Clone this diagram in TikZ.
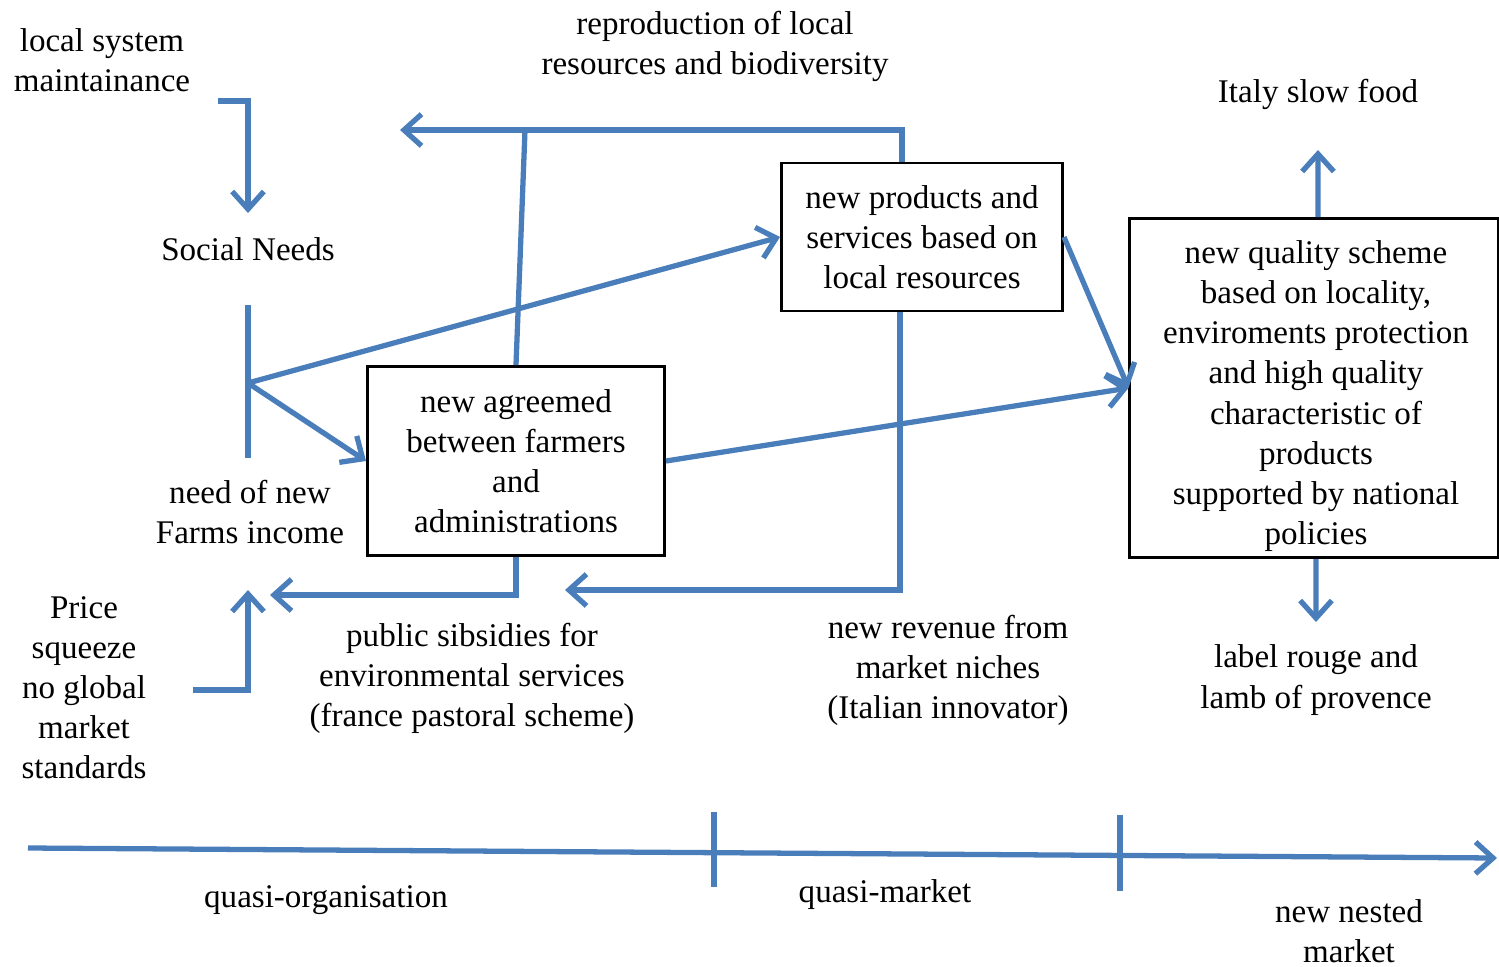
\documentclass[tikz,border=0pt]{standalone}
\usepackage{fontspec}
\setmainfont{Liberation Serif}
\usetikzlibrary{arrows.meta}

\definecolor{flowblue}{RGB}{74,126,187}

\tikzset{
  flow/.style={draw=flowblue, line width=1.5pt, -{Straight Barb[length=5pt,width=9pt]}},
  link/.style={draw=flowblue, line width=1.5pt},
  box/.style={draw, thick, align=center, inner sep=0pt},
  lbl/.style={align=center, inner sep=0pt},
}

\begin{document}
\begin{tikzpicture}[x=0.01cm, y=-0.01cm, font=\fontsize{9.4}{11.4}\selectfont]
    \useasboundingbox (0,0) rectangle (1499,966);

    % boxes
    \node[box, minimum width=2.81cm, minimum height=1.48cm] (prod) at (922,237) {new products and\\services based on\\local resources};
    \node[box, minimum width=2.97cm, minimum height=1.89cm] (agree) at (516,461) {new agreemed\\between farmers\\and\\administrations};
    \node[box, minimum width=3.68cm, minimum height=3.39cm,
          label={[lbl, xshift=0.02cm, yshift=-0.08cm]center:{new quality scheme\\based on locality,\\enviroments protection\\and high quality\\characteristic of\\products\\supported by national\\policies}}] (quality) at (1314,388) {};

    % labels
    \node[lbl] (local) at (102,60) {local system\\maintainance};
    \node[lbl] (social) at (248,249) {Social Needs};
    \node[lbl] (income) at (250,512) {need of new\\Farms income};
    \node[lbl] (price) at (84,688) {Price\\squeeze\\no global\\market\\standards};
    \node[lbl] (repro) at (715,46) {reproduction of local\\resources and biodiversity};
    \node[lbl] (slow) at (1318,94) {Italy slow food};
    \node[lbl] (subs) at (472,678) {public sibsidies for\\environmental services\\(france pastoral scheme)};
    \node[lbl] (niche) at (948,670) {new revenue from\\market niches\\(Italian innovator)};
    \node[lbl] (rouge) at (1316,680) {label rouge and\\lamb of provence};
    \node[lbl] (qorg) at (326,900) {quasi-organisation};
    \node[lbl] (qmark) at (885,895) {quasi-market};
    \node[lbl] (nested) at (1349,931) {new nested\\market};

    % free ends
    \coordinate (lsstart) at (218,101);
    \coordinate (lsend) at (248,213);
    \coordinate (forktop) at (248,305);
    \coordinate (forkbot) at (248,458);
    \coordinate (fork) at (248,383);
    \coordinate (junc) at (525,130);
    \coordinate (reproend) at (400,130);
    \coordinate (nicheend) at (565,590);
    \coordinate (subsend) at (270,595);
    \coordinate (pricestart) at (193,690);
    \coordinate (priceend) at (248,590);
    \coordinate (slowend) at (1318,150);
    \coordinate (rougeend) at (1316,622);

    % connectors
    \draw[flow] (lsstart) -| (lsend);
    \draw[link] (forktop) -- (forkbot);
    \draw[flow] (fork) -- (prod.west);
    \draw[flow] (fork) -- (agree.west);
    \draw[link] (agree.north) -- (junc);
    \draw[flow] ([xshift=-0.2cm]prod.north) |- (reproend);
    \draw[flow] ([xshift=-0.22cm]prod.south) |- (nicheend);
    \draw[flow] (agree.south) |- (subsend);
    \draw[flow] (pricestart) -| (priceend);
    \draw[flow] (prod.east) -- (quality.west);
    \draw[flow] (agree.east) -- (quality.west);
    \draw[flow] ([xshift=0.04cm]quality.north) -- (slowend);
    \draw[flow] ([xshift=0.02cm]quality.south) -- (rougeend);

    % axis
    \coordinate (axstart) at (28,848);
    \coordinate (axend) at (1497,858);
    \draw[flow] (axstart) -- (axend);
    \draw[link] (714,812) -- (714,887);
    \draw[link] (1120,815) -- (1120,891);
\end{tikzpicture}
\end{document}
